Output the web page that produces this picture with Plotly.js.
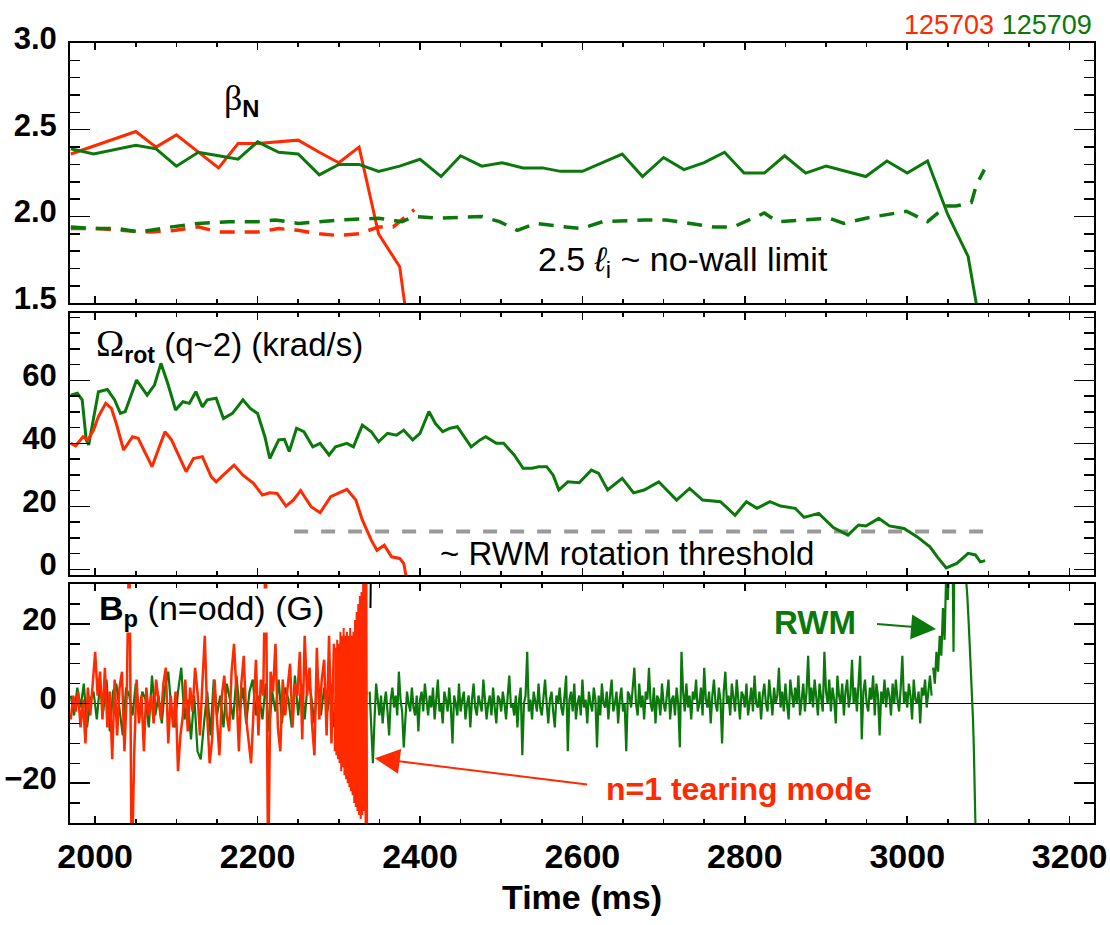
<!DOCTYPE html>
<html>
<head>
<meta charset="utf-8">
<script src="https://cdn.plot.ly/plotly-3.0.1.min.js"></script>
<style>html,body{margin:0;padding:0;background:#fff;}#chart{width:1110px;height:925px;}</style>
</head>
<body>
<div id="chart"></div>
<script>
// ---------- DATA ----------
// Top panel: beta_N and 2.5*li (no-wall limit)
const betaNRedT = [1970,2050,2075,2100,2152,2176,2200,2250,2276,2300,2325,2349,2375,2381,2384];
const betaNRed  = [2.36,2.49,2.40,2.47,2.28,2.42,2.42,2.44,2.37,2.31,2.40,1.90,1.71,1.50,1.40];
const betaNGreenT = [1970,1998,2050,2075,2100,2127,2152,2176,2200,2226,2250,2276,2300,2325,2349,2375,2400,2426,2450,2476,2501,2527,2551,2573,2600,2625,2649,2674,2700,2725,2750,2775,2799,2824,2849,2875,2900,2949,2975,3000,3025,3050,3075,3085,3088];
const betaNGreen  = [2.39,2.36,2.41,2.39,2.29,2.37,2.35,2.33,2.43,2.37,2.36,2.24,2.30,2.30,2.26,2.29,2.33,2.23,2.35,2.29,2.31,2.28,2.28,2.26,2.26,2.31,2.36,2.23,2.34,2.27,2.31,2.37,2.25,2.25,2.35,2.25,2.29,2.23,2.32,2.25,2.32,2.01,1.77,1.50,1.40];
const liRedT = [1970,2002,2068,2099,2127,2152,2176,2200,2226,2250,2276,2300,2325,2349,2367,2378,2393];
const liRed  = [1.93,1.93,1.91,1.92,1.94,1.91,1.91,1.91,1.93,1.92,1.90,1.89,1.90,1.94,1.94,1.98,2.04];
const liGreenT = [1970,2002,2029,2053,2094,2127,2165,2200,2222,2250,2301,2349,2378,2393,2424,2476,2498,2520,2542,2598,2625,2676,2703,2761,2786,2824,2840,2869,2904,2922,2949,2999,3025,3048,3060,3079,3085,3095];
const liGreen  = [1.94,1.93,1.93,1.91,1.94,1.96,1.97,1.97,1.98,1.96,1.98,1.99,1.97,2.00,1.99,2.00,1.97,1.92,1.96,1.93,1.97,1.98,1.98,1.94,1.94,2.02,1.97,1.98,1.99,1.96,1.99,2.03,1.97,2.06,2.06,2.08,2.18,2.27];

// Middle panel: rotation at q~2 (krad/s)
const rotGreenT = [1970,1978,1984,1989,1992,1998,2004,2015,2024,2031,2037,2051,2057,2064,2073,2081,2090,2099,2108,2116,2124,2132,2138,2149,2158,2169,2182,2191,2200,2209,2215,2226,2233,2239,2248,2257,2268,2277,2288,2296,2310,2318,2329,2340,2349,2360,2371,2380,2391,2400,2411,2419,2428,2437,2446,2455,2463,2474,2481,2494,2503,2516,2527,2538,2546,2556,2564,2571,2582,2596,2611,2620,2631,2649,2663,2676,2694,2716,2732,2748,2770,2788,2802,2815,2831,2844,2862,2873,2891,2909,2927,2940,2949,2965,2978,2996,3012,3028,3037,3048,3061,3075,3084,3090,3096];
const rotGreen  = [55.3,55.9,53.8,41.1,39.5,48.5,56.4,57.1,53.8,49.5,50.1,60.1,58.0,55.3,58.5,65.4,58.5,50.6,53.2,52.7,56.4,51.6,53.8,54.3,47.9,49.5,53.8,51.1,49.5,42.1,35.2,41.1,41.3,37.4,44.8,43.7,38.9,40.0,36.3,38.9,40.0,38.9,45.8,43.7,40.5,43.2,42.6,44.2,41.1,43.2,50.1,46.3,43.7,44.8,45.3,42.1,38.9,41.1,42.1,40.0,40.0,36.3,32.1,32.1,32.6,32.6,29.9,25.2,27.8,27.5,31.5,30.5,25.2,28.9,24.3,25.2,27.8,22.0,25.7,22.0,21.5,17.2,21.5,19.4,21.5,20.1,19.4,16.5,17.8,13.3,10.9,14.1,13.8,16.2,13.8,13.0,10.4,7.2,4.0,0.5,1.9,5.1,4.6,2.4,2.8];
const rotRedT = [1970,1976,1985,1991,1998,2004,2013,2020,2026,2035,2046,2053,2062,2070,2079,2086,2094,2103,2112,2121,2132,2143,2149,2160,2171,2182,2195,2206,2215,2224,2235,2244,2253,2266,2277,2290,2310,2321,2329,2340,2347,2356,2365,2375,2380,2383];
const rotRed  = [40.0,39.2,42.1,41.1,44.2,48.5,52.7,51.1,46.3,37.9,42.1,41.6,36.8,32.6,38.9,43.7,41.1,36.3,31.0,35.2,35.8,29.4,27.8,30.5,33.1,29.9,27.3,23.6,24.3,24.1,20.1,22.0,25.0,19.9,18.0,23.1,25.4,22.0,15.7,9.3,6.1,7.7,4.0,3.5,1.9,-2.3];
const rwmThreshT = [2245,3100];
const rwmThresh  = [12,12];

// Bottom panel: Bp (n=odd) (G)
// green, 4 ms samples from 1970 ms (mostly behind the red trace)
const bpGreenEarlyStart = 1970, bpGreenEarlyStep = 4;
const bpGreenEarly = [
 2,-3,4,-1,5,-6,1,3,-4,5,
 -2,6,-7,3,5,-2,-8,4,2,-3,
 5,-4,3,1,-6,7,-3,2,-5,4,
 8,-2,-6,3,9,-4,1,-9,2,-12,
 -14,-5,3,-8,6,-3,2,-6,5,1,
 -4,7,-2,4,-5,3,6,-3,2,-4,
 5,-7,3,-2,6,-5,4,1,-6,7,
 -3,5,-4,6,2,-5,7,-3,4,-2,
 5,-6,3,6,-4,2,-7,5,-3,4,
 -6,3];
// green, 2 ms samples from 2338 ms
const bpGreenLateStart = 2338, bpGreenLateStep = 2;
const bpGreenLate = [
 3,-6,-15,-4,5,1,-3,2,-5,0,3,-2,-8,1,4,-1,2,-3,8,1,
 -2,-11,-4,3,0,-2,4,-1,-3,2,-7,1,3,-2,5,0,-3,2,-1,4,
 -4,1,6,-2,0,-5,3,1,-2,4,-1,-10,2,0,-3,5,-2,1,3,-4,
 0,2,-6,1,5,-1,-3,2,0,-2,6,1,-4,0,2,-3,4,-1,-5,2,
 1,-2,3,0,-4,2,7,-1,0,-3,2,-6,1,4,-13,0,2,13,-2,1,
 -4,3,0,-2,5,-1,-3,2,6,0,-5,1,3,-2,-6,2,0,4,-1,-3,
 2,7,-12,1,3,-2,5,-4,0,2,-3,6,-1,1,-5,3,0,-2,4,1,
 -11,2,-3,5,0,-1,3,-4,2,6,-2,0,3,-5,1,4,-2,0,-12,3,
 2,-1,4,9,0,-3,5,-1,2,-4,3,1,9,0,-2,4,-5,2,1,-3,
 5,0,-2,3,6,-4,1,2,-3,4,0,-11,13,3,-2,5,-1,2,-4,3,
 1,6,-2,0,4,-3,9,1,-1,3,-5,2,6,0,-2,4,1,-10,3,8,
 0,2,-3,5,1,-2,6,0,-4,3,2,-1,5,-3,1,4,-2,7,0,-1,
 3,-4,2,5,0,-2,6,1,-3,4,0,2,9,-1,3,-2,5,0,-4,6,
 2,-1,4,0,7,-3,1,5,-2,3,12,0,4,-1,6,2,-3,5,1,-2,
 13,3,0,6,-2,4,1,-5,7,2,0,5,-3,3,6,-1,2,11,0,4,
 -2,5,12,-9,3,6,0,-2,4,1,7,-3,5,2,-8,3,0,6,-1,4,
 2,-3,5,0,6,1,-2,4,12,0,3,-1,5,2,-4,6,1,0,3,-5,
 4,2,6,-1,3,7,2];
// green RWM growth and collapse
const bpRwmT = [3032,3034,3036,3038,3040,3042,3044,3046,3048,3050,3052,3054,3056,3057,3058,3060,3062,3064,3066,3068,3070,3072,3074,3076,3078,3080,3081,3082,3083,3084,3086];
const bpRwm  = [9,5,13,8,17,12,24,16,33,26,38,31,35,13,36,40,33,42,37,41,38,33,27,19,11,3,-4,-11,-20,-32,-50];
// red: 3 ms samples from 1970 ms, then 1 ms burst before the mode locks
const bpRedStart = 1970, bpRedStep = 3;
const bpRed = [
 -4,2,-2,3,-6,1,-10,4,-3,6,
 13,2,8,-4,9,-6,3,-14,6,-8,
 4,8,-12,3,45,-45,-13,6,-5,2,
 -12,4,-3,2,-5,6,1,-4,5,9,
 -10,2,-6,3,-17,-8,-3,6,-7,4,
 -2,9,3,-8,5,17,-3,-15,-9,6,
 -4,-13,2,7,-3,-7,8,15,3,-12,
 5,12,-4,-9,-15,-2,11,-8,6,2,
 45,-45,8,3,15,-6,-12,6,-3,4,
 10,-6,5,2,13,-9,17,2,9,-5,
 -13,14,-4,6,11,-8,17,-10,15];
const bpBurstStart = 2295, bpBurstStep = 1;
const bpBurst = [
 -12,14,-13,16,-14,15,-15,18,-17,17,
 -16,19,-18,17,-19,18,-20,17,-21,19,
 -22,17,-23,18,-25,21,-26,23,-27,25,
 -28,27,-29,28,-28,30,-27,33,-35,40,-40];
const bpBlackT = [2339,2339.5];
const bpBlack  = [24,33];

// tick labels
const xTickVals = [2000,2200,2400,2600,2800,3000,3200];
const betaTickVals = [1.5,2.0,2.5,3.0];
const betaTickText = ['1.5','2.0','2.5','3.0'];
const rotTickVals = [0,20,40,60];
const bpTickVals = [-20,0,20];

// ---------- STYLE ----------
const RED = '#ff2a00', GREEN = '#0a780a', GRAY = '#9a9a9a';
const SANS = 'Liberation Sans, Arial, Helvetica, sans-serif';
const SERIF = 'Liberation Serif, Times New Roman, serif';

const grid = (start, step, n) => Array.from({length: n}, (_, i) => start + i * step);

const traces = [
  {x: betaNRedT, y: betaNRed, xaxis: 'x', yaxis: 'y', mode: 'lines', line: {color: RED, width: 3}},
  {x: liRedT, y: liRed, xaxis: 'x', yaxis: 'y', mode: 'lines', line: {color: RED, width: 3.5, dash: '15px,10px'}},
  {x: betaNGreenT, y: betaNGreen, xaxis: 'x', yaxis: 'y', mode: 'lines', line: {color: GREEN, width: 3}},
  {x: liGreenT, y: liGreen, xaxis: 'x', yaxis: 'y', mode: 'lines', line: {color: GREEN, width: 3.5, dash: '15px,10px'}},

  {x: rwmThreshT, y: rwmThresh, xaxis: 'x2', yaxis: 'y2', mode: 'lines', line: {color: GRAY, width: 4, dash: '14px,13px'}},
  {x: rotGreenT, y: rotGreen, xaxis: 'x2', yaxis: 'y2', mode: 'lines', line: {color: GREEN, width: 3}},
  {x: rotRedT, y: rotRed, xaxis: 'x2', yaxis: 'y2', mode: 'lines', line: {color: RED, width: 3}},

  {x: grid(bpGreenEarlyStart, bpGreenEarlyStep, bpGreenEarly.length), y: bpGreenEarly, xaxis: 'x3', yaxis: 'y3', mode: 'lines', line: {color: GREEN, width: 2.2}},
  {x: grid(bpGreenLateStart, bpGreenLateStep, bpGreenLate.length), y: bpGreenLate, xaxis: 'x3', yaxis: 'y3', mode: 'lines', line: {color: GREEN, width: 2.2}},
  {x: bpRwmT, y: bpRwm, xaxis: 'x3', yaxis: 'y3', mode: 'lines', line: {color: GREEN, width: 2.2}},
  {x: grid(bpRedStart, bpRedStep, bpRed.length), y: bpRed, xaxis: 'x3', yaxis: 'y3', mode: 'lines', line: {color: RED, width: 2.5}},
  {x: grid(bpBurstStart, bpBurstStep, bpBurst.length), y: bpBurst, xaxis: 'x3', yaxis: 'y3', mode: 'lines', line: {color: RED, width: 2}},
  {x: bpBlackT, y: bpBlack, xaxis: 'x3', yaxis: 'y3', mode: 'lines', line: {color: '#000', width: 2}}
];

const xRange = [1969, 3230];
const xCommon = {
  range: xRange, tickvals: xTickVals, ticks: 'inside', ticklen: 7, tickwidth: 1.5, tickcolor: '#000',
  minor: {dtick: 50, tick0: 2000, ticks: 'inside', ticklen: 4, tickwidth: 1.5, tickcolor: '#000'},
  showline: true, linewidth: 2, linecolor: '#000', mirror: 'allticks',
  showgrid: false, zeroline: false, fixedrange: true
};
const yCommon = {
  ticks: 'inside', ticklen: 20, tickwidth: 1.5, tickcolor: '#000',
  showline: true, linewidth: 2, linecolor: '#000', mirror: 'allticks',
  showgrid: false, zeroline: false, fixedrange: true,
  tickfont: {family: SANS, size: 31, color: '#000', weight: 'bold'},
  ticklabelstandoff: 5, ticklabelshift: -5
};

const layout = {
  width: 1110, height: 925,
  margin: {l: 70, r: 16, t: 43, b: 102},
  paper_bgcolor: '#fff', plot_bgcolor: '#fff',
  showlegend: false, hovermode: false,
  font: {family: SANS, color: '#000'},
  xaxis: Object.assign({}, xCommon, {anchor: 'y', showticklabels: false}),
  xaxis2: Object.assign({}, xCommon, {anchor: 'y2', showticklabels: false, matches: 'x'}),
  xaxis3: Object.assign({}, xCommon, {anchor: 'y3', showticklabels: true,
    tickfont: {family: SANS, size: 34, color: '#000', weight: 'bold'}, ticklabelstandoff: 2,
    title: {text: 'Time (ms)', font: {family: SANS, size: 34, color: '#000', weight: 'bold'}, standoff: 11},
    automargin: false, matches: 'x'}),
  yaxis: Object.assign({}, yCommon, {domain: [0.6664, 1], range: [1.5, 3.0], tickvals: betaTickVals, ticktext: betaTickText,
    minor: {dtick: 0.1, tick0: 1.5, ticks: 'inside', ticklen: 10, tickwidth: 1.5, tickcolor: '#000'}}),
  yaxis2: Object.assign({}, yCommon, {domain: [0.3178, 0.6544], range: [-1.8, 81.5], tickvals: rotTickVals,
    minor: {dtick: 5, tick0: 0, ticks: 'inside', ticklen: 10, tickwidth: 1.5, tickcolor: '#000'}}),
  yaxis3: Object.assign({}, yCommon, {domain: [0, 0.3063], range: [-30, 30], tickvals: bpTickVals,
    zeroline: true, zerolinecolor: '#000', zerolinewidth: 1.5,
    minor: {dtick: 5, tick0: 0, ticks: 'inside', ticklen: 10, tickwidth: 1.5, tickcolor: '#000'}}),
  annotations: [
    {xref: 'paper', yref: 'paper', x: 1, y: 1.0235, xanchor: 'right', yanchor: 'middle', showarrow: false,
     text: '<span style="color:' + RED + '">125703</span> <span style="color:' + GREEN + '">125709</span>',
     font: {family: SANS, size: 27}},
    {xref: 'x', yref: 'y', x: 2156, y: 2.673, xanchor: 'left', yanchor: 'middle', showarrow: false,
     text: '<span style="font-family:' + SERIF + ';font-size:36px">β</span><sub><b>N</b></sub>',
     font: {family: SANS, size: 34, color: '#000'}},
    {xref: 'x', yref: 'y', x: 2543, y: 1.738, xanchor: 'left', yanchor: 'middle', showarrow: false,
     text: '2.5 <i>ℓ</i><sub>i</sub> ~ no-wall limit', font: {family: SANS, size: 34, color: '#000'}},
    {xref: 'x2', yref: 'y2', x: 1998, y: 71.2, xanchor: 'left', yanchor: 'middle', showarrow: false,
     text: '<span style="font-family:' + SERIF + ';font-size:38px">Ω</span><sub><b>rot</b></sub> (q~2) (krad/s)',
     font: {family: SANS, size: 33, color: '#000'}},
    {xref: 'x2', yref: 'y2', x: 2422, y: 5.2, xanchor: 'left', yanchor: 'middle', showarrow: false,
     text: '~ RWM rotation threshold', font: {family: SANS, size: 33, color: '#000'}},
    {xref: 'x3', yref: 'y3', x: 2004, y: 23.3, xanchor: 'left', yanchor: 'middle', showarrow: false,
     bgcolor: '#fff', borderpad: 0,
     text: '<b>B</b><sub><b>p</b></sub> (n=odd) (G)', font: {family: SANS, size: 34, color: '#000'}},
    {xref: 'x3', yref: 'y3', x: 2886, y: 20.4, xanchor: 'center', yanchor: 'middle', showarrow: false,
     text: '<b>RWM</b>', font: {family: SANS, size: 33, color: GREEN}},
    {xref: 'x3', yref: 'y3', x: 3035.5, y: 18.75, axref: 'x3', ayref: 'y3', ax: 2961, ay: 20,
     text: '', showarrow: true, arrowhead: 2, arrowsize: 2.5, arrowwidth: 2, arrowcolor: GREEN},
    {xref: 'x3', yref: 'y3', x: 2627, y: -21.4, xanchor: 'left', yanchor: 'middle', showarrow: false,
     text: '<b>n=1 tearing mode</b>', font: {family: SANS, size: 32, color: RED}},
    {xref: 'x3', yref: 'y3', x: 2344.3, y: -13.75, axref: 'x3', ayref: 'y3', ax: 2607.8, ay: -20.4,
     text: '', showarrow: true, arrowhead: 2, arrowsize: 2.5, arrowwidth: 2, arrowcolor: RED}
  ]
};

Plotly.newPlot('chart', traces, layout, {staticPlot: true, displayModeBar: false});
</script>
</body>
</html>
